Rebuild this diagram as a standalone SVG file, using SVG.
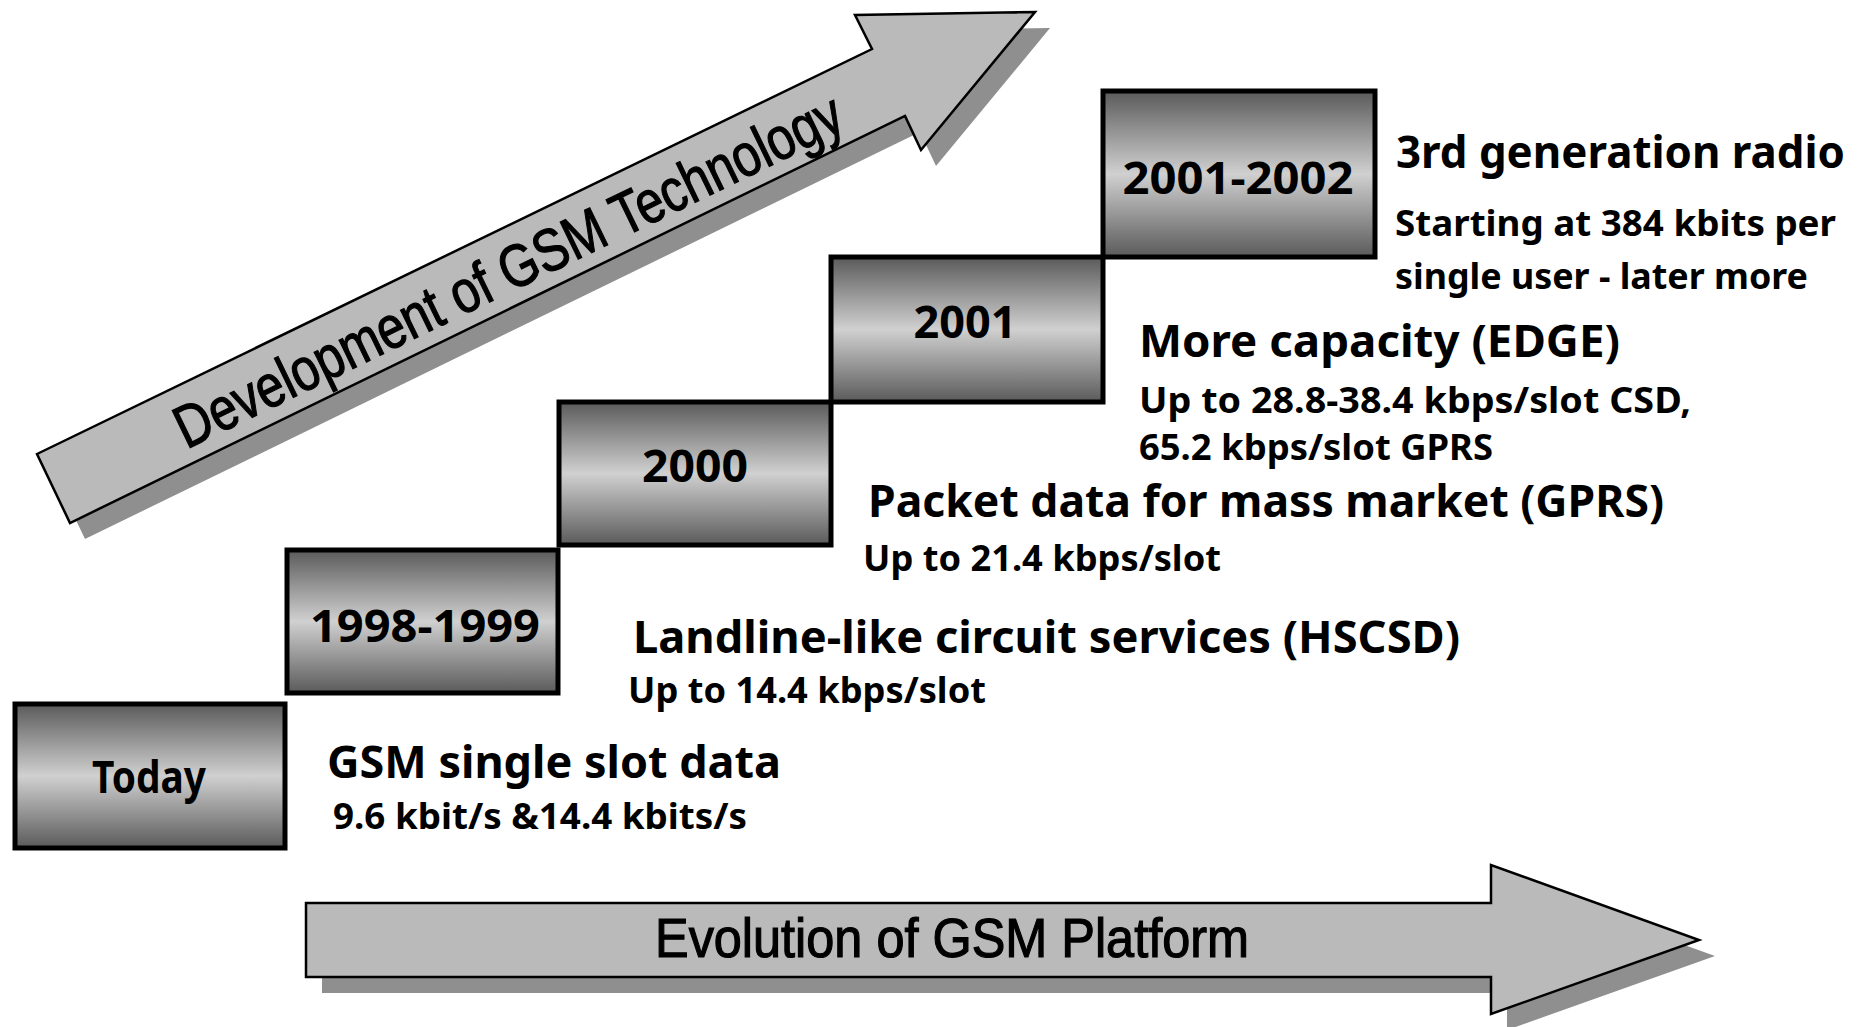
<svg xmlns="http://www.w3.org/2000/svg" width="1861" height="1027" viewBox="0 0 1861 1027">
<defs>
<linearGradient id="boxGrad" x1="0" y1="0" x2="0" y2="1">
<stop offset="0" stop-color="#5a5a5a"/>
<stop offset="0.5" stop-color="#d0d0d0"/>
<stop offset="1" stop-color="#5a5a5a"/>
</linearGradient>
<style>
.box{fill:url(#boxGrad);stroke:#000;stroke-width:5}
.arrow{fill:#bababa;stroke:#000;stroke-width:2.5;stroke-linejoin:miter}
.shadow{fill:#8f8f8f}
.blabel{font-family:"Noto Sans","DejaVu Sans",sans-serif;font-weight:bold;font-size:45px;fill:#000;text-anchor:middle}
.head{font-family:"Noto Sans","DejaVu Sans",sans-serif;font-weight:bold;font-size:45px;fill:#000}
.sub{font-family:"Noto Sans","DejaVu Sans",sans-serif;font-weight:bold;font-size:36px;fill:#000}
.atext{font-family:"Liberation Sans","Arial",sans-serif;font-size:56px;fill:#000;stroke:#000;stroke-width:1.2}
</style>
</defs>
<rect width="1861" height="1027" fill="#fff"/>

<g id="arrow-technology">
<polygon class="shadow" transform="translate(15,16)" points="37,454 872,49 855,15 1035,12 921,150 905,116 70,523"/>
<polygon class="arrow" points="37,454 872,49 855,15 1035,12 921,150 905,116 70,523"/>
<text class="atext" transform="translate(508,270) rotate(-25.9)" x="0" y="21" text-anchor="middle" textLength="735" lengthAdjust="spacingAndGlyphs" style="font-size:60px">Development of GSM Technology</text>
</g>

<g id="arrow-platform">
<polygon class="shadow" transform="translate(16,16)" points="306,903 1491,903 1491,865 1699,940 1491,1014 1491,977 306,977"/>
<polygon class="arrow" points="306,903 1491,903 1491,865 1699,940 1491,1014 1491,977 306,977"/>
<text class="atext" x="655" y="957" textLength="594" lengthAdjust="spacingAndGlyphs">Evolution of GSM Platform</text>
</g>

<g id="node-today">
<rect class="box" x="15" y="704" width="270" height="144"/>
<text class="blabel" x="149" y="793" textLength="114" lengthAdjust="spacingAndGlyphs">Today</text>
</g>
<g id="node-1998-1999">
<rect class="box" x="287" y="550" width="271" height="143"/>
<text class="blabel" x="425" y="642" textLength="230" lengthAdjust="spacingAndGlyphs">1998-1999</text>
</g>
<g id="node-2000">
<rect class="box" x="559" y="402" width="272" height="143"/>
<text class="blabel" x="695" y="482" textLength="106" lengthAdjust="spacingAndGlyphs">2000</text>
</g>
<g id="node-2001">
<rect class="box" x="831" y="257" width="272" height="145"/>
<text class="blabel" x="965" y="338" textLength="103" lengthAdjust="spacingAndGlyphs">2001</text>
</g>
<g id="node-2001-2002">
<rect class="box" x="1103" y="91" width="272" height="166"/>
<text class="blabel" x="1238" y="194" textLength="231" lengthAdjust="spacingAndGlyphs">2001-2002</text>
</g>

<g id="desc-gsm">
<text class="head" x="327" y="778" textLength="454" lengthAdjust="spacingAndGlyphs">GSM single slot data</text>
<text class="sub" x="333" y="829" textLength="414" lengthAdjust="spacingAndGlyphs">9.6 kbit/s &amp;14.4 kbits/s</text>
</g>
<g id="desc-hscsd">
<text class="head" x="633" y="653" textLength="827" lengthAdjust="spacingAndGlyphs">Landline-like circuit services (HSCSD)</text>
<text class="sub" x="628" y="703" textLength="358" lengthAdjust="spacingAndGlyphs">Up to 14.4 kbps/slot</text>
</g>
<g id="desc-gprs">
<text class="head" x="868" y="517" textLength="796" lengthAdjust="spacingAndGlyphs">Packet data for mass market (GPRS)</text>
<text class="sub" x="863" y="571" textLength="358" lengthAdjust="spacingAndGlyphs">Up to 21.4 kbps/slot</text>
</g>
<g id="desc-edge">
<text class="head" x="1139" y="357" textLength="481" lengthAdjust="spacingAndGlyphs">More capacity (EDGE)</text>
<text class="sub" x="1139" y="413" textLength="552" lengthAdjust="spacingAndGlyphs">Up to 28.8-38.4 kbps/slot CSD,</text>
<text class="sub" x="1139" y="460" textLength="354" lengthAdjust="spacingAndGlyphs">65.2 kbps/slot GPRS</text>
</g>
<g id="desc-3g">
<text class="head" x="1396" y="168" textLength="449" lengthAdjust="spacingAndGlyphs">3rd generation radio</text>
<text class="sub" x="1395" y="236" textLength="441" lengthAdjust="spacingAndGlyphs">Starting at 384 kbits per</text>
<text class="sub" x="1395" y="289" textLength="413" lengthAdjust="spacingAndGlyphs">single user - later more</text>
</g>

<g id="connectors"></g>
</svg>
